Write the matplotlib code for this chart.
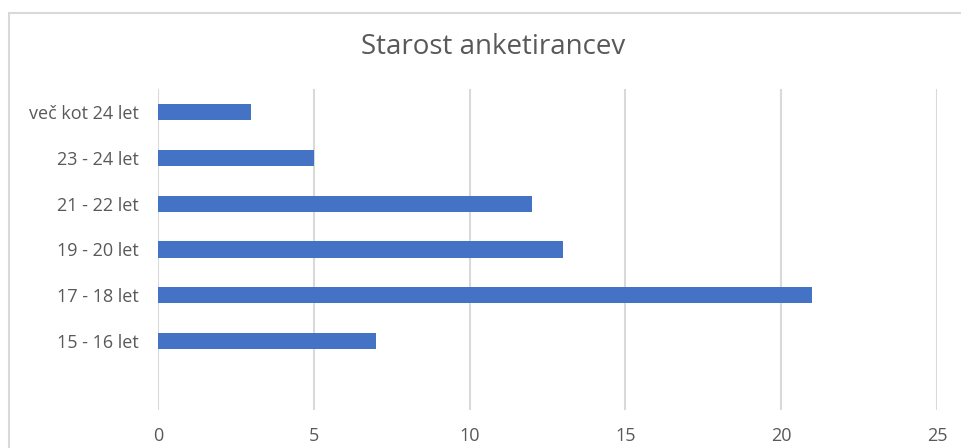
import matplotlib.pyplot as plt
from matplotlib.patches import Rectangle

# age groups, bottom to top (first slot is an empty category like in the source chart)
categories = ['', '15 - 16 let', '17 - 18 let', '19 - 20 let', '21 - 22 let', '23 - 24 let', 'več kot 24 let']
counts = [0, 7, 21, 13, 12, 5, 3]
xticks = [0, 5, 10, 15, 20, 25]

plt.rcParams['font.family'] = ['Open Sans', 'DejaVu Sans']

W, H = 961, 448
fig = plt.figure(figsize=(W / 100, H / 100), dpi=100)
ax = fig.add_axes([158 / W, (H - 410) / H, (937 - 158) / W, (410 - 89) / H])

ypos = list(range(len(categories)))
ax.barh(ypos, counts, height=0.35, color='#4472C4', zorder=3)

ax.set_xlim(0, 25)
ax.set_ylim(-0.5, len(categories) - 0.5)
ax.set_xticks(xticks)
ax.set_yticks(ypos)
ax.set_yticklabels(categories)
ax.grid(axis='x', color='#d9d9d9', linewidth=1.5, zorder=0)
for s in ax.spines.values():
    s.set_visible(False)
ax.tick_params(length=0, labelsize=13, colors='#595959')
ax.tick_params(axis='x', pad=12)
ax.tick_params(axis='y', pad=14)

fig.text(493 / W, 1 - 47 / H, 'Starost anketirancev', ha='center', va='center',
         fontsize=20, color='#595959')

# chart frame (cut off at right and bottom in the reference)
fig.patches.append(Rectangle((9 / W, -0.1), 1.0, 1 - 13 / H + 0.1, transform=fig.transFigure,
                             fill=False, edgecolor='#d9d9d9', linewidth=1.5))

fig.savefig('out.png', dpi=100)
